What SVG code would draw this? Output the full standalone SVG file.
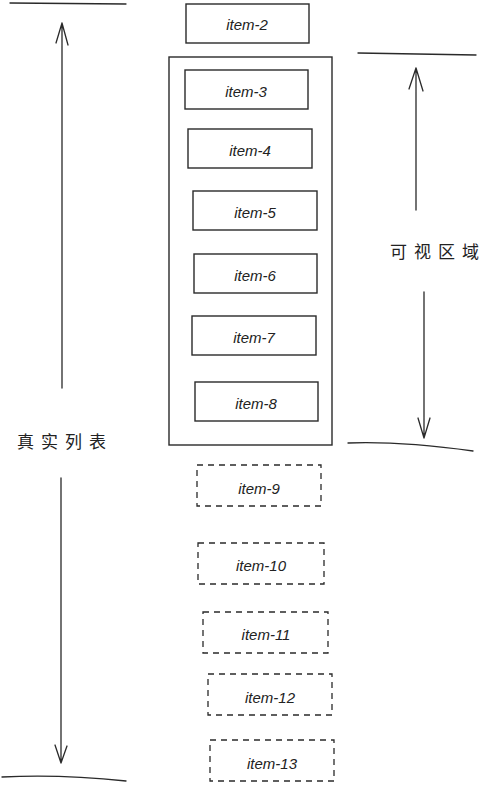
<svg xmlns="http://www.w3.org/2000/svg" width="490" height="785" viewBox="0 0 490 785">
<style>
.ln{fill:none;stroke:#2a2a2a;stroke-width:1.3;stroke-linecap:round;stroke-linejoin:round}
.box{fill:none;stroke:#2a2a2a;stroke-width:1.4}
.dash{fill:none;stroke:#2a2a2a;stroke-width:1.3;stroke-dasharray:6 5}
.t{font-family:"Liberation Sans",Arial,sans-serif;font-size:15px;font-style:italic;fill:#222;text-anchor:middle;dominant-baseline:central}
.cn{font-family:"Noto Sans CJK SC",sans-serif;font-size:17px;fill:#222;letter-spacing:7px;dominant-baseline:central}
</style>
<rect width="490" height="785" fill="#ffffff"/>
<g id="connectors">
<path class="ln" d="M10 3 L126 4"/>
<path class="ln" d="M62 388 L62 23 M56 43 L62 23 L68 45"/>
<path class="ln" d="M61 478 L61 763 M55 745 L61 763 L67 746"/>
<path class="ln" d="M2 777 Q60 774 126 781"/>
<path class="ln" d="M358 53 L476 55"/>
<path class="ln" d="M416 210 L416 68 M409 89 L416 68 L423 91"/>
<path class="ln" d="M424 292 L424 438 M418 418 L424 438 L430 418"/>
<path class="ln" d="M348 443 Q400 441 473 451"/>
</g>
<g id="label-real"><text class="cn" x="17" y="440">真实列表</text></g>
<g id="label-visible"><text class="cn" x="390" y="250">可视区域</text></g>
<g id="viewport"><rect class="box" x="169" y="57" width="163" height="388"/></g>
<g id="item-2"><rect class="box" x="186" y="4" width="123" height="39"/><text class="t" x="247" y="24">item-2</text></g>
<g id="item-3"><rect class="box" x="185" y="70" width="123" height="39"/><text class="t" x="246" y="91">item-3</text></g>
<g id="item-4"><rect class="box" x="188" y="129" width="124" height="39"/><text class="t" x="250" y="150">item-4</text></g>
<g id="item-5"><rect class="box" x="193" y="191" width="124" height="39"/><text class="t" x="255" y="212">item-5</text></g>
<g id="item-6"><rect class="box" x="194" y="254" width="123" height="39"/><text class="t" x="255" y="275">item-6</text></g>
<g id="item-7"><rect class="box" x="192" y="316" width="124" height="39"/><text class="t" x="254" y="337">item-7</text></g>
<g id="item-8"><rect class="box" x="195" y="382" width="123" height="39"/><text class="t" x="256" y="403">item-8</text></g>
<g id="item-9"><rect class="dash" x="197" y="465" width="124" height="41"/><text class="t" x="259" y="488">item-9</text></g>
<g id="item-10"><rect class="dash" x="198" y="543" width="126" height="41"/><text class="t" x="261" y="565">item-10</text></g>
<g id="item-11"><rect class="dash" x="203" y="612" width="125" height="41"/><text class="t" x="266" y="634">item-11</text></g>
<g id="item-12"><rect class="dash" x="208" y="674" width="124" height="41"/><text class="t" x="270" y="697">item-12</text></g>
<g id="item-13"><rect class="dash" x="210" y="740" width="124" height="41"/><text class="t" x="272" y="763">item-13</text></g>
</svg>
